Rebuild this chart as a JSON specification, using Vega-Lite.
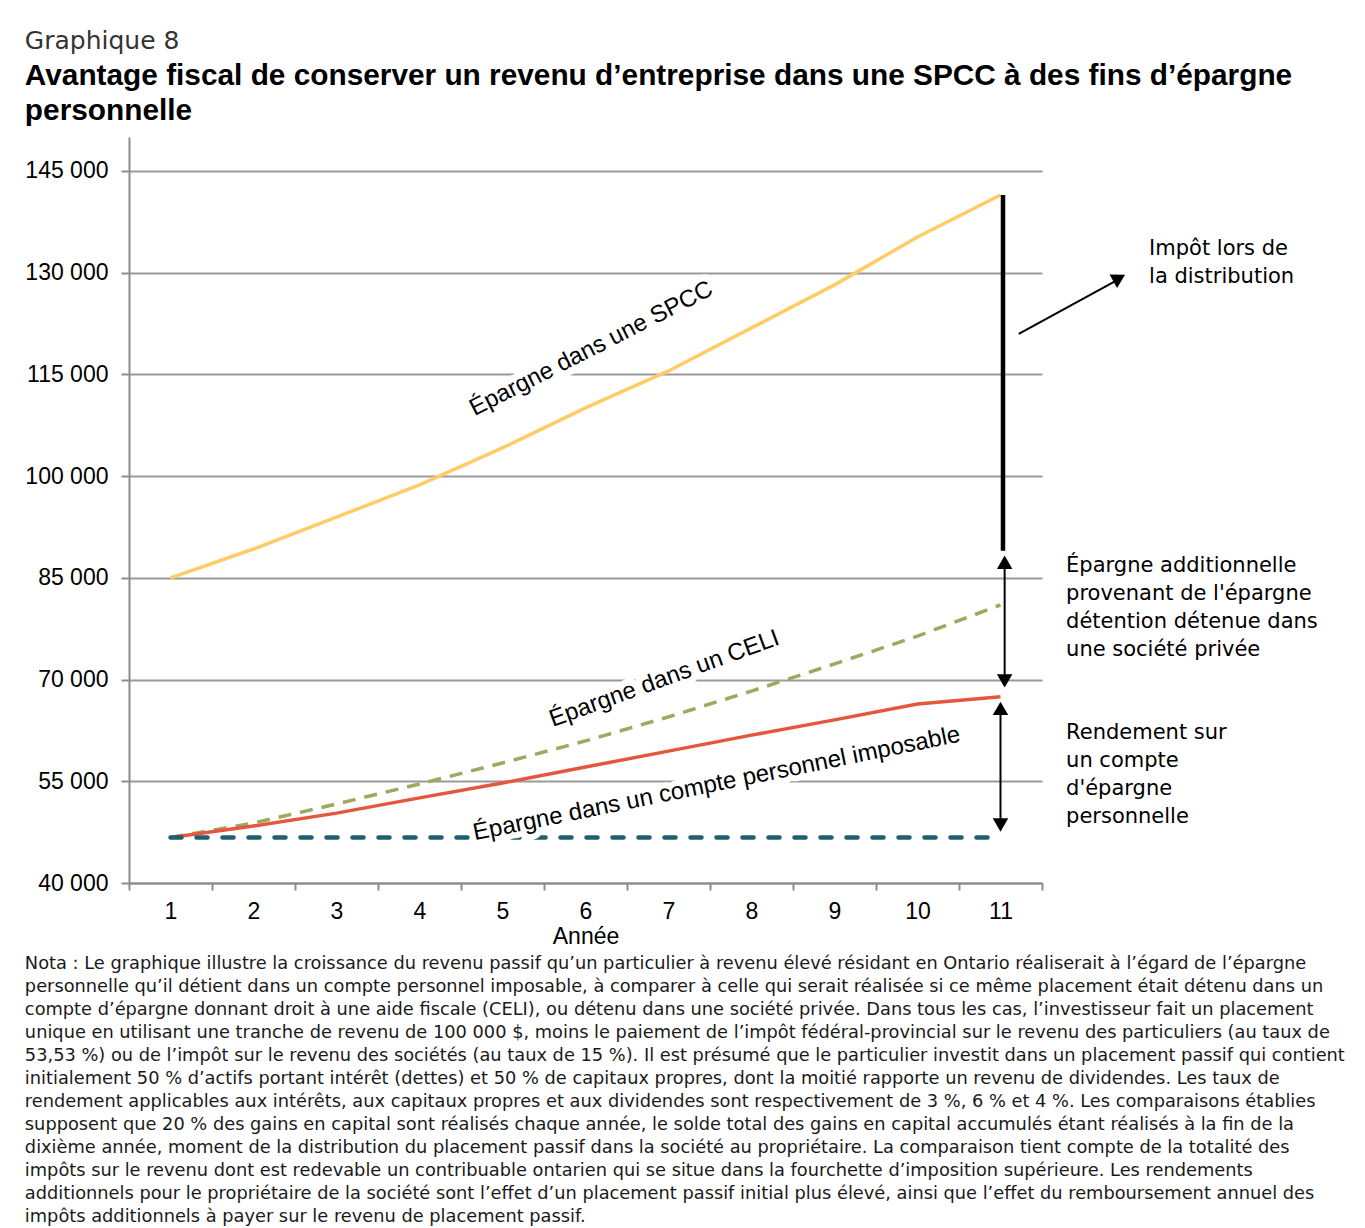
{
  "$schema": "https://vega.github.io/schema/vega-lite/v6.json",
  "background": "white",
  "padding": {"left": 24, "top": 29, "right": 5, "bottom": 5},
  "config": {
    "font": "Liberation Sans",
    "view": {"stroke": null},
    "axis": {"labelColor": "#000", "titleColor": "#000", "labelFont": "Liberation Sans", "titleFont": "Liberation Sans"}
  },
  "title": {
    "text": "Graphique 8",
    "subtitle": ["Avantage fiscal de conserver un revenu d’entreprise dans une SPCC à des fins d’épargne", "personnelle"],
    "anchor": "start",
    "font": "DejaVu Sans",
    "fontSize": 25,
    "fontWeight": "normal",
    "color": "#333333",
    "subtitleFont": "Liberation Sans",
    "subtitleFontSize": 29.8,
    "subtitleFontWeight": "bold",
    "subtitleColor": "#000000",
    "subtitleLineHeight": 35,
    "subtitlePadding": 7,
    "offset": 11
  },
  "datasets": {
    "series": [
      {"serie": "SPCC", "annee": 1, "valeur": 85000},
      {"serie": "SPCC", "annee": 2, "valeur": 89250},
      {"serie": "SPCC", "annee": 3, "valeur": 93950},
      {"serie": "SPCC", "annee": 4, "valeur": 98700},
      {"serie": "SPCC", "annee": 5, "valeur": 104150},
      {"serie": "SPCC", "annee": 6, "valeur": 110050},
      {"serie": "SPCC", "annee": 7, "valeur": 115500},
      {"serie": "SPCC", "annee": 8, "valeur": 121850},
      {"serie": "SPCC", "annee": 9, "valeur": 128200},
      {"serie": "SPCC", "annee": 10, "valeur": 135250},
      {"serie": "SPCC", "annee": 11, "valeur": 141450},
      {"serie": "CELI", "annee": 1, "valeur": 46700},
      {"serie": "CELI", "annee": 2, "valeur": 48850},
      {"serie": "CELI", "annee": 3, "valeur": 51650},
      {"serie": "CELI", "annee": 4, "valeur": 54600},
      {"serie": "CELI", "annee": 5, "valeur": 57700},
      {"serie": "CELI", "annee": 6, "valeur": 60950},
      {"serie": "CELI", "annee": 7, "valeur": 64500},
      {"serie": "CELI", "annee": 8, "valeur": 68300},
      {"serie": "CELI", "annee": 9, "valeur": 72300},
      {"serie": "CELI", "annee": 10, "valeur": 76400},
      {"serie": "CELI", "annee": 11, "valeur": 81000},
      {"serie": "Imposable", "annee": 1, "valeur": 46700},
      {"serie": "Imposable", "annee": 2, "valeur": 48400},
      {"serie": "Imposable", "annee": 3, "valeur": 50300},
      {"serie": "Imposable", "annee": 4, "valeur": 52550},
      {"serie": "Imposable", "annee": 5, "valeur": 54750},
      {"serie": "Imposable", "annee": 6, "valeur": 57100},
      {"serie": "Imposable", "annee": 7, "valeur": 59450},
      {"serie": "Imposable", "annee": 8, "valeur": 61800},
      {"serie": "Imposable", "annee": 9, "valeur": 64050},
      {"serie": "Imposable", "annee": 10, "valeur": 66400},
      {"serie": "Imposable", "annee": 11, "valeur": 67450},
      {"serie": "Base", "annee": 1, "valeur": 46700},
      {"serie": "Base", "annee": 2, "valeur": 46700},
      {"serie": "Base", "annee": 3, "valeur": 46700},
      {"serie": "Base", "annee": 4, "valeur": 46700},
      {"serie": "Base", "annee": 5, "valeur": 46700},
      {"serie": "Base", "annee": 6, "valeur": 46700},
      {"serie": "Base", "annee": 7, "valeur": 46700},
      {"serie": "Base", "annee": 8, "valeur": 46700},
      {"serie": "Base", "annee": 9, "valeur": 46700},
      {"serie": "Base", "annee": 10, "valeur": 46700},
      {"serie": "Base", "annee": 11, "valeur": 46700}
    ],
    "etiquettes": [
      {"id": "spcc", "texte": "Épargne dans une SPCC", "annee": 6.07, "valeur": 118750},
      {"id": "celi", "texte": "Épargne dans un CELI", "annee": 6.95, "valeur": 70100},
      {"id": "imp", "texte": "Épargne dans un compte personnel imposable", "annee": 7.58, "valeur": 54600}
    ],
    "notes": [
      {"texte": "Impôt lors de\nla distribution", "annee": 12.79, "valeur": 133480},
      {"texte": "Épargne additionnelle\nprovenant de l'épargne\ndétention détenue dans\nune société privée", "annee": 11.79, "valeur": 86740},
      {"texte": "Rendement sur\nun compte\nd'épargne\npersonnelle", "annee": 11.79, "valeur": 62120}
    ],
    "fleches": [
      {"id": "distribution", "annee": 11.03, "valeur": 141450, "annee2": 11.03, "valeur2": 89000},
      {"id": "additionnelle", "annee": 11.05, "valeur": 87500, "annee2": 11.05, "valeur2": 69500},
      {"id": "rendement", "annee": 11.0, "valeur": 65900, "annee2": 11.0, "valeur2": 48300},
      {"id": "impot", "annee": 11.22, "valeur": 120960, "annee2": 12.45, "valeur2": 129200}
    ],
    "pointes": [
      {"sens": "haut", "annee": 11.05, "valeur": 87300},
      {"sens": "bas", "annee": 11.05, "valeur": 69800},
      {"sens": "haut", "annee": 11.0, "valeur": 65750},
      {"sens": "bas", "annee": 11.0, "valeur": 48550},
      {"sens": "diagonale", "annee": 12.43, "valeur": 129200}
    ]
  },
  "vconcat": [
    {
      "width": 913,
      "height": 746,
      "title": {
        "text": [
          "Nota : Le graphique illustre la croissance du revenu passif qu’un particulier à revenu élevé résidant en Ontario réaliserait à l’égard de l’épargne",
          "personnelle qu’il détient dans un compte personnel imposable, à comparer à celle qui serait réalisée si ce même placement était détenu dans un",
          "compte d’épargne donnant droit à une aide fiscale (CELI), ou détenu dans une société privée. Dans tous les cas, l’investisseur fait un placement",
          "unique en utilisant une tranche de revenu de 100 000 $, moins le paiement de l’impôt fédéral-provincial sur le revenu des particuliers (au taux de",
          "53,53 %) ou de l’impôt sur le revenu des sociétés (au taux de 15 %). Il est présumé que le particulier investit dans un placement passif qui contient",
          "initialement 50 % d’actifs portant intérêt (dettes) et 50 % de capitaux propres, dont la moitié rapporte un revenu de dividendes. Les taux de",
          "rendement applicables aux intérêts, aux capitaux propres et aux dividendes sont respectivement de 3 %, 6 % et 4 %. Les comparaisons établies",
          "supposent que 20 % des gains en capital sont réalisés chaque année, le solde total des gains en capital accumulés étant réalisés à la fin de la",
          "dixième année, moment de la distribution du placement passif dans la société au propriétaire. La comparaison tient compte de la totalité des",
          "impôts sur le revenu dont est redevable un contribuable ontarien qui se situe dans la fourchette d’imposition supérieure. Les rendements",
          "additionnels pour le propriétaire de la société sont l’effet d’un placement passif initial plus élevé, ainsi que l’effet du remboursement annuel des",
          "impôts additionnels à payer sur le revenu de placement passif."
        ],
        "orient": "bottom",
        "anchor": "start",
        "font": "DejaVu Sans",
        "fontSize": 17.8,
        "fontWeight": "normal",
        "lineHeight": 23,
        "color": "#1a1a1a",
        "offset": 7
      },
      "layer": [
        {
          "data": {"name": "series"},
          "transform": [{"filter": "datum.serie === 'SPCC'"}],
          "mark": {"type": "line", "color": "#FFCC66", "strokeWidth": 3.5},
          "encoding": {
            "x": {
              "field": "annee", "type": "quantitative",
              "scale": {"domain": [0.5, 11.5], "nice": false, "zero": false},
              "axis": {
                "title": "Année",
                "values": [0.5, 1.5, 2.5, 3.5, 4.5, 5.5, 6.5, 7.5, 8.5, 9.5, 10.5, 11.5],
                "labelExpr": "datum.value < 11 ? format(datum.value + 0.5, 'd') : ''",
                "labelOffset": 41.5,
                "labelFlush": false,
                "labelOverlap": false,
                "grid": false,
                "tickSize": 7,
                "tickColor": "#8c8c8c",
                "tickWidth": 2,
                "domainColor": "#8c8c8c",
                "domainWidth": 2,
                "labelFontSize": 23,
                "labelPadding": 10,
                "titleFontSize": 23,
                "titleFontWeight": "normal",
                "titlePadding": 2
              }
            },
            "y": {
              "field": "valeur", "type": "quantitative",
              "scale": {"domain": [40000, 150000], "nice": false, "zero": false},
              "axis": {
                "title": null,
                "values": [40000, 55000, 70000, 85000, 100000, 115000, 130000, 145000],
                "labelExpr": "replace(format(datum.value, ','), ',', ' ')",
                "grid": true,
                "gridColor": "#9a9a9a",
                "gridWidth": 2,
                "tickSize": 8,
                "tickColor": "#8c8c8c",
                "tickWidth": 2,
                "domainColor": "#8c8c8c",
                "domainWidth": 2,
                "labelFontSize": 23,
                "labelPadding": 13
              }
            }
          }
        },
        {
          "data": {"name": "series"},
          "transform": [{"filter": "datum.serie === 'CELI'"}],
          "mark": {"type": "line", "color": "#9FA85C", "strokeWidth": 3.5, "strokeDash": [13, 9]},
          "encoding": {"x": {"field": "annee", "type": "quantitative"}, "y": {"field": "valeur", "type": "quantitative"}}
        },
        {
          "data": {"name": "series"},
          "transform": [{"filter": "datum.serie === 'Imposable'"}],
          "mark": {"type": "line", "color": "#E4573E", "strokeWidth": 3.5},
          "encoding": {"x": {"field": "annee", "type": "quantitative"}, "y": {"field": "valeur", "type": "quantitative"}}
        },
        {
          "data": {"name": "series"},
          "transform": [{"filter": "datum.serie === 'Base'"}],
          "mark": {"type": "line", "color": "#1F5F6E", "strokeWidth": 4.5, "strokeDash": [11, 15], "strokeCap": "round"},
          "encoding": {"x": {"field": "annee", "type": "quantitative"}, "y": {"field": "valeur", "type": "quantitative"}}
        },
        {
          "data": {"name": "etiquettes"},
          "transform": [{"filter": "datum.id === 'spcc'"}],
          "mark": {"type": "text", "angle": 333, "fontSize": 24, "fill": "white", "stroke": "white", "strokeWidth": 14, "strokeJoin": "round"},
          "encoding": {"x": {"field": "annee", "type": "quantitative"}, "y": {"field": "valeur", "type": "quantitative"}, "text": {"field": "texte"}}
        },
        {
          "data": {"name": "etiquettes"},
          "transform": [{"filter": "datum.id === 'celi'"}],
          "mark": {"type": "text", "angle": 340, "fontSize": 24, "fill": "white", "stroke": "white", "strokeWidth": 14, "strokeJoin": "round"},
          "encoding": {"x": {"field": "annee", "type": "quantitative"}, "y": {"field": "valeur", "type": "quantitative"}, "text": {"field": "texte"}}
        },
        {
          "data": {"name": "etiquettes"},
          "transform": [{"filter": "datum.id === 'imp'"}],
          "mark": {"type": "text", "angle": 348.5, "fontSize": 24, "fill": "white", "stroke": "white", "strokeWidth": 12, "strokeJoin": "round"},
          "encoding": {"x": {"field": "annee", "type": "quantitative"}, "y": {"field": "valeur", "type": "quantitative"}, "text": {"field": "texte"}}
        },
        {
          "data": {"name": "etiquettes"},
          "transform": [{"filter": "datum.id === 'spcc'"}],
          "mark": {"type": "text", "angle": 333, "fontSize": 24, "color": "#000"},
          "encoding": {"x": {"field": "annee", "type": "quantitative"}, "y": {"field": "valeur", "type": "quantitative"}, "text": {"field": "texte"}}
        },
        {
          "data": {"name": "etiquettes"},
          "transform": [{"filter": "datum.id === 'celi'"}],
          "mark": {"type": "text", "angle": 340, "fontSize": 24, "color": "#000"},
          "encoding": {"x": {"field": "annee", "type": "quantitative"}, "y": {"field": "valeur", "type": "quantitative"}, "text": {"field": "texte"}}
        },
        {
          "data": {"name": "etiquettes"},
          "transform": [{"filter": "datum.id === 'imp'"}],
          "mark": {"type": "text", "angle": 348.5, "fontSize": 24, "color": "#000"},
          "encoding": {"x": {"field": "annee", "type": "quantitative"}, "y": {"field": "valeur", "type": "quantitative"}, "text": {"field": "texte"}}
        },
        {
          "data": {"name": "fleches"},
          "transform": [{"filter": "datum.id === 'distribution'"}],
          "mark": {"type": "rule", "color": "#000", "strokeWidth": 4.5},
          "encoding": {
            "x": {"field": "annee", "type": "quantitative"}, "y": {"field": "valeur", "type": "quantitative"},
            "x2": {"field": "annee2"}, "y2": {"field": "valeur2"}
          }
        },
        {
          "data": {"name": "fleches"},
          "transform": [{"filter": "datum.id !== 'distribution'"}],
          "mark": {"type": "rule", "color": "#000", "strokeWidth": 2},
          "encoding": {
            "x": {"field": "annee", "type": "quantitative"}, "y": {"field": "valeur", "type": "quantitative"},
            "x2": {"field": "annee2"}, "y2": {"field": "valeur2"}
          }
        },
        {
          "data": {"name": "pointes"},
          "transform": [{"filter": "datum.sens === 'haut'"}],
          "mark": {"type": "point", "shape": "triangle-up", "filled": true, "color": "#000", "opacity": 1, "size": 240},
          "encoding": {"x": {"field": "annee", "type": "quantitative"}, "y": {"field": "valeur", "type": "quantitative"}}
        },
        {
          "data": {"name": "pointes"},
          "transform": [{"filter": "datum.sens === 'bas'"}],
          "mark": {"type": "point", "shape": "triangle-down", "filled": true, "color": "#000", "opacity": 1, "size": 240},
          "encoding": {"x": {"field": "annee", "type": "quantitative"}, "y": {"field": "valeur", "type": "quantitative"}}
        },
        {
          "data": {"name": "pointes"},
          "transform": [{"filter": "datum.sens === 'diagonale'"}],
          "mark": {"type": "point", "shape": "triangle-up", "angle": 61, "filled": true, "color": "#000", "opacity": 1, "size": 240},
          "encoding": {"x": {"field": "annee", "type": "quantitative"}, "y": {"field": "valeur", "type": "quantitative"}}
        },
        {
          "data": {"name": "notes"},
          "mark": {"type": "text", "align": "left", "baseline": "middle", "font": "DejaVu Sans", "fontSize": 21, "lineHeight": 28, "lineBreak": "\n", "color": "#000"},
          "encoding": {"x": {"field": "annee", "type": "quantitative"}, "y": {"field": "valeur", "type": "quantitative"}, "text": {"field": "texte"}}
        }
      ]
    }
  ]
}
